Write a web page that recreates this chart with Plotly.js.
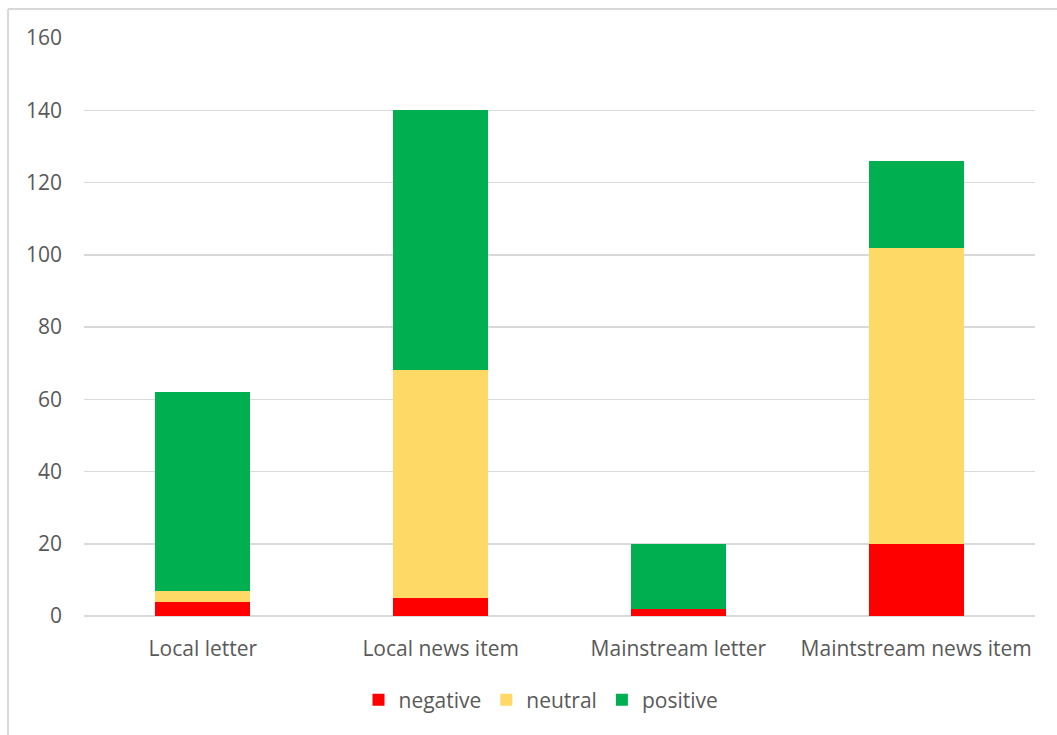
<!DOCTYPE html>
<html>
<head>
<meta charset="utf-8">
<script src="https://cdn.plot.ly/plotly-3.0.1.min.js"></script>
<style>
  html, body { margin: 0; padding: 0; background: #ffffff; }
  #chart { width: 1057px; height: 735px; }
</style>
</head>
<body>
<div id="chart"></div>
<script>
// Article types and sentiment counts per type
const categories = ["Local letter", "Local news item", "Mainstream letter", "Maintstream news item"];
const negative = [4, 5, 2, 20];
const neutral = [3, 63, 0, 82];
const positive = [55, 72, 18, 24];

const seriesNames = ["negative", "neutral", "positive"];
const seriesColors = ["#ff0000", "#ffd966", "#00b050"];
const yTicks = [0, 20, 40, 60, 80, 100, 120, 140, 160];

const W = 1057, H = 735;
const margin = { l: 84, r: 22, t: 38, b: 119 };
const plotW = W - margin.l - margin.r;
const plotH = H - margin.t - margin.b;

const textFont = { family: "'Open Sans', Lato, sans-serif", size: 21, color: "#595959" };

const traces = [negative, neutral, positive].map((vals, i) => ({
  type: "bar",
  name: seriesNames[i],
  x: categories,
  y: vals,
  marker: { color: seriesColors[i], line: { width: 0 } },
  hoverinfo: "x+y+name"
}));

const layout = {
  width: W,
  height: H,
  margin: margin,
  barmode: "stack",
  bargap: 0.6,
  paper_bgcolor: "#ffffff",
  plot_bgcolor: "#ffffff",
  font: textFont,
  showlegend: true,
  legend: {
    orientation: "h",
    x: (541 - margin.l) / plotW, xanchor: "center",
    y: -(700 - (H - margin.b)) / plotH, yanchor: "middle",
    font: textFont,
    itemwidth: 30,
    traceorder: "normal"
  },
  xaxis: {
    type: "category",
    showgrid: false,
    showline: false,
    zeroline: false,
    ticks: "",
    tickfont: textFont,
    ticklabelstandoff: 18
  },
  yaxis: {
    range: [0, 160],
    tickvals: yTicks,
    ticktext: yTicks.map(String),
    showgrid: true,
    gridcolor: "#d9d9d9",
    gridwidth: 1.5,
    zeroline: true,
    zerolinecolor: "#d9d9d9",
    zerolinewidth: 2,
    showline: false,
    ticks: "",
    tickfont: textFont,
    ticklabelstandoff: 21
  },
  shapes: [
    // chart frame: left and top edges
    {
      type: "line", xref: "paper", yref: "paper",
      x0: (8 - margin.l) / plotW, x1: (8 - margin.l) / plotW,
      y0: 1 + (margin.t - 9) / plotH, y1: -(margin.b) / plotH,
      line: { color: "#d9d9d9", width: 2 }
    },
    {
      type: "line", xref: "paper", yref: "paper",
      x0: (8 - margin.l) / plotW, x1: 1 + margin.r / plotW,
      y0: 1 + (margin.t - 9) / plotH, y1: 1 + (margin.t - 9) / plotH,
      line: { color: "#d9d9d9", width: 2 }
    }
  ]
};

Plotly.newPlot("chart", traces, layout, { displayModeBar: false, staticPlot: true });
</script>
</body>
</html>
